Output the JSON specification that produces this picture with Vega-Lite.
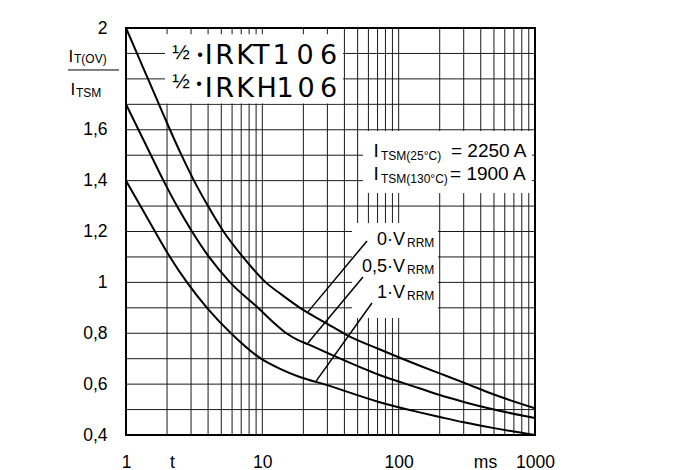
{
  "$schema": "https://vega.github.io/schema/vega-lite/v6.json",
  "width": 409,
  "height": 407,
  "autosize": "none",
  "padding": {"left": 126, "top": 28, "right": 165, "bottom": 35},
  "background": "white",
  "config": {
    "view": {"stroke": "black", "strokeWidth": 2},
    "axis": {"domain": false, "ticks": false, "grid": false, "labelFont": "Liberation Sans", "labelFontSize": 17.5, "labelColor": "black"}
  },
  "datasets": {
    "vgrid": [
      {"t": 2}, {"t": 3}, {"t": 4}, {"t": 5}, {"t": 6}, {"t": 7}, {"t": 8}, {"t": 9}, {"t": 10},
      {"t": 20}, {"t": 30}, {"t": 40}, {"t": 50}, {"t": 60}, {"t": 70}, {"t": 80}, {"t": 90}, {"t": 100},
      {"t": 200}, {"t": 300}, {"t": 400}, {"t": 500}, {"t": 600}, {"t": 700}, {"t": 800}, {"t": 900}
    ],
    "hgrid": [
      {"v": 0.5}, {"v": 0.6}, {"v": 0.7}, {"v": 0.8}, {"v": 0.9}, {"v": 1.0}, {"v": 1.1},
      {"v": 1.2}, {"v": 1.3}, {"v": 1.4}, {"v": 1.5}, {"v": 1.6}, {"v": 1.7}, {"v": 1.8}, {"v": 1.9}
    ],
    "boxes": [
      {"t1": 1.932, "t2": 39.06, "v1": 1.975, "v2": 1.703},
      {"t1": 54.75, "t2": 950, "v1": 1.595, "v2": 1.351},
      {"t1": 45.47, "t2": 194.4, "v1": 1.2335, "v2": 0.86}
    ],
    "curves": [
      {"s": "0", "t": 1, "v": 2.0}, {"s": "0", "t": 1.204, "v": 1.9}, {"s": "0", "t": 1.45, "v": 1.8},
      {"s": "0", "t": 1.746, "v": 1.7}, {"s": "0", "t": 2.102, "v": 1.6}, {"s": "0", "t": 2.554, "v": 1.5},
      {"s": "0", "t": 3.153, "v": 1.4}, {"s": "0", "t": 3.996, "v": 1.3}, {"s": "0", "t": 5.191, "v": 1.2},
      {"s": "0", "t": 7.2, "v": 1.1}, {"s": "0", "t": 10.6, "v": 1.0}, {"s": "0", "t": 14.0, "v": 0.95},
      {"s": "0", "t": 18.9, "v": 0.9},
      {"s": "0", "t": 30, "v": 0.837}, {"s": "0", "t": 41, "v": 0.795}, {"s": "0", "t": 71.5, "v": 0.738},
      {"s": "0", "t": 140, "v": 0.674}, {"s": "0", "t": 200, "v": 0.642}, {"s": "0", "t": 300, "v": 0.606},
      {"s": "0", "t": 500, "v": 0.559}, {"s": "0", "t": 1000, "v": 0.505},
      {"s": "0.5", "t": 1, "v": 1.7}, {"s": "0.5", "t": 1.235, "v": 1.6}, {"s": "0.5", "t": 1.525, "v": 1.5},
      {"s": "0.5", "t": 1.884, "v": 1.4}, {"s": "0.5", "t": 2.366, "v": 1.3}, {"s": "0.5", "t": 3.049, "v": 1.2},
      {"s": "0.5", "t": 4.063, "v": 1.1}, {"s": "0.5", "t": 5.8, "v": 1.0}, {"s": "0.5", "t": 9.3, "v": 0.9},
      {"s": "0.5", "t": 12.5, "v": 0.835}, {"s": "0.5", "t": 15, "v": 0.8}, {"s": "0.5", "t": 18, "v": 0.775},
      {"s": "0.5", "t": 22, "v": 0.755}, {"s": "0.5", "t": 32.3, "v": 0.715},
      {"s": "0.5", "t": 71.5, "v": 0.637}, {"s": "0.5", "t": 140, "v": 0.585}, {"s": "0.5", "t": 200, "v": 0.557},
      {"s": "0.5", "t": 300, "v": 0.53}, {"s": "0.5", "t": 500, "v": 0.5}, {"s": "0.5", "t": 1000, "v": 0.467},
      {"s": "1", "t": 1, "v": 1.4}, {"s": "1", "t": 1.277, "v": 1.3}, {"s": "1", "t": 1.632, "v": 1.2},
      {"s": "1", "t": 2.102, "v": 1.1}, {"s": "1", "t": 2.802, "v": 1.0}, {"s": "1", "t": 3.928, "v": 0.9},
      {"s": "1", "t": 5.89, "v": 0.8}, {"s": "1", "t": 9.78, "v": 0.7}, {"s": "1", "t": 13.5, "v": 0.66},
      {"s": "1", "t": 18.6, "v": 0.629},
      {"s": "1", "t": 29, "v": 0.598}, {"s": "1", "t": 71.5, "v": 0.53}, {"s": "1", "t": 140, "v": 0.49},
      {"s": "1", "t": 200, "v": 0.471}, {"s": "1", "t": 300, "v": 0.45}, {"s": "1", "t": 500, "v": 0.427},
      {"s": "1", "t": 1000, "v": 0.4}
    ],
    "leaders": [
      {"t1": 21.6, "v1": 0.884, "t2": 58.6, "v2": 1.163},
      {"t1": 21.6, "v1": 0.762, "t2": 54.75, "v2": 1.021},
      {"t1": 24.8, "v1": 0.612, "t2": 63.7, "v2": 0.919}
    ],
    "bar": [
      {"t1": 0.3755, "t2": 0.8886, "v": 1.835}
    ],
    "labels": [
      {"g": "big", "t": 4.044, "v": 1.8585, "txt": "I"},
      {"g": "big", "t": 5.279, "v": 1.8585, "txt": "R"},
      {"g": "big", "t": 7.463, "v": 1.8585, "txt": "K"},
      {"g": "big", "t": 9.827, "v": 1.8585, "txt": "T"},
      {"g": "big", "t": 13.71, "v": 1.8585, "txt": "1"},
      {"g": "big", "t": 20.56, "v": 1.8585, "txt": "0"},
      {"g": "big", "t": 30.58, "v": 1.8585, "txt": "6"},
      {"g": "big", "t": 4.044, "v": 1.7288, "txt": "I"},
      {"g": "big", "t": 5.279, "v": 1.7288, "txt": "R"},
      {"g": "big", "t": 7.463, "v": 1.7288, "txt": "K"},
      {"g": "big", "t": 10.77, "v": 1.7288, "txt": "H"},
      {"g": "big", "t": 14.67, "v": 1.7288, "txt": "1"},
      {"g": "big", "t": 20.91, "v": 1.7288, "txt": "0"},
      {"g": "big", "t": 30.58, "v": 1.7288, "txt": "6"},
      {"g": "half", "t": 2.531, "v": 1.9006, "txt": "½"},
      {"g": "half", "t": 2.531, "v": 1.7858, "txt": "½"},
      {"g": "dot", "t": 3.49, "v": 1.892, "txt": "•"},
      {"g": "dot", "t": 3.43, "v": 1.78, "txt": "•"},
      {"g": "ytitle", "t": 0.3786, "v": 1.866, "txt": "I"},
      {"g": "ytitle", "t": 0.3916, "v": 1.737, "txt": "I"},
      {"g": "sub", "t": 0.4155, "v": 1.862, "txt": "T(OV)"},
      {"g": "sub", "t": 0.4297, "v": 1.729, "txt": "TSM"},
      {"g": "main", "t": 65.4, "v": 1.493, "txt": "I"},
      {"g": "main", "t": 242, "v": 1.493, "txt": "= 2250 A"},
      {"g": "main", "t": 65.4, "v": 1.4025, "txt": "I"},
      {"g": "main", "t": 238, "v": 1.4025, "txt": "= 1900 A"},
      {"g": "sub", "t": 74.2, "v": 1.481, "txt": "TSM(25°C)"},
      {"g": "sub", "t": 74.2, "v": 1.391, "txt": "TSM(130°C)"},
      {"g": "vr", "t": 111.3, "v": 1.147, "txt": "0·V"},
      {"g": "vr", "t": 111.3, "v": 1.041, "txt": "0,5·V"},
      {"g": "vr", "t": 111.3, "v": 0.939, "txt": "1·V"},
      {"g": "sub", "t": 115.1, "v": 1.139, "txt": "RRM"},
      {"g": "sub", "t": 115.1, "v": 1.033, "txt": "RRM"},
      {"g": "sub", "t": 115.1, "v": 0.931, "txt": "RRM"}
    ]
  },
  "layer": [
    {
      "data": {"name": "vgrid"},
      "mark": {"type": "rule", "stroke": "#1a1a1a", "strokeWidth": 1},
      "encoding": {
        "x": {"field": "t", "type": "quantitative", "title": null,
          "scale": {"type": "log", "domain": [1, 1000], "nice": false},
          "axis": {"values": [1, 2.17, 10, 100, 430, 1000], "labelOverlap": false, "labelFlush": false, "labelPadding": 18,
            "labelExpr": "datum.value < 1.5 ? '1' : datum.value < 5 ? 't' : datum.value < 50 ? '10' : datum.value < 200 ? '100' : datum.value < 800 ? 'ms' : '1000'"}}
      }
    },
    {
      "data": {"name": "hgrid"},
      "mark": {"type": "rule", "stroke": "#1a1a1a", "strokeWidth": 1},
      "encoding": {
        "y": {"field": "v", "type": "quantitative", "title": null,
          "scale": {"domain": [0.4, 2], "nice": false, "zero": false},
          "axis": {"values": [0.4, 0.6, 0.8, 1, 1.2, 1.4, 1.6, 2], "labelOverlap": false, "labelFlush": false, "labelPadding": 19,
            "labelExpr": "replace(format(datum.value, '.1~f'), '.', ',')"}}
      }
    },
    {
      "data": {"name": "boxes"},
      "mark": {"type": "rect", "fill": "white", "stroke": null},
      "encoding": {
        "x": {"field": "t1", "type": "quantitative", "title": null},
        "x2": {"field": "t2"},
        "y": {"field": "v1", "type": "quantitative", "title": null},
        "y2": {"field": "v2"}
      }
    },
    {
      "data": {"name": "curves"},
      "mark": {"type": "line", "stroke": "black", "strokeWidth": 2, "interpolate": "monotone"},
      "encoding": {
        "x": {"field": "t", "type": "quantitative", "title": null},
        "y": {"field": "v", "type": "quantitative", "title": null},
        "detail": {"field": "s"}
      }
    },
    {
      "data": {"name": "leaders"},
      "mark": {"type": "rule", "stroke": "black", "strokeWidth": 1.5},
      "encoding": {
        "x": {"field": "t1", "type": "quantitative", "title": null},
        "x2": {"field": "t2"},
        "y": {"field": "v1", "type": "quantitative", "title": null},
        "y2": {"field": "v2"}
      }
    },
    {
      "data": {"name": "bar"},
      "mark": {"type": "rule", "stroke": "black", "strokeWidth": 1},
      "encoding": {
        "x": {"field": "t1", "type": "quantitative", "title": null},
        "x2": {"field": "t2"},
        "y": {"field": "v", "type": "quantitative", "title": null}
      }
    },
    {
      "data": {"name": "labels"},
      "transform": [{"filter": "datum.g == 'big'"}],
      "mark": {"type": "text", "align": "center", "baseline": "alphabetic", "font": "DejaVu Sans", "fontSize": 27, "fill": "black"},
      "encoding": {
        "x": {"field": "t", "type": "quantitative", "title": null},
        "y": {"field": "v", "type": "quantitative", "title": null},
        "text": {"field": "txt"}
      }
    },
    {
      "data": {"name": "labels"},
      "transform": [{"filter": "datum.g == 'half'"}],
      "mark": {"type": "text", "align": "center", "baseline": "middle", "font": "Liberation Sans", "fontSize": 21, "fill": "black"},
      "encoding": {
        "x": {"field": "t", "type": "quantitative", "title": null},
        "y": {"field": "v", "type": "quantitative", "title": null},
        "text": {"field": "txt"}
      }
    },
    {
      "data": {"name": "labels"},
      "transform": [{"filter": "datum.g == 'dot'"}],
      "mark": {"type": "text", "align": "center", "baseline": "middle", "font": "Liberation Sans", "fontSize": 16, "fill": "black"},
      "encoding": {
        "x": {"field": "t", "type": "quantitative", "title": null},
        "y": {"field": "v", "type": "quantitative", "title": null},
        "text": {"field": "txt"}
      }
    },
    {
      "data": {"name": "labels"},
      "transform": [{"filter": "datum.g == 'ytitle'"}],
      "mark": {"type": "text", "align": "left", "baseline": "alphabetic", "font": "Liberation Sans", "fontSize": 17, "fill": "black"},
      "encoding": {
        "x": {"field": "t", "type": "quantitative", "title": null},
        "y": {"field": "v", "type": "quantitative", "title": null},
        "text": {"field": "txt"}
      }
    },
    {
      "data": {"name": "labels"},
      "transform": [{"filter": "datum.g == 'main'"}],
      "mark": {"type": "text", "align": "left", "baseline": "alphabetic", "font": "Liberation Sans", "fontSize": 19, "fill": "black"},
      "encoding": {
        "x": {"field": "t", "type": "quantitative", "title": null},
        "y": {"field": "v", "type": "quantitative", "title": null},
        "text": {"field": "txt"}
      }
    },
    {
      "data": {"name": "labels"},
      "transform": [{"filter": "datum.g == 'vr'"}],
      "mark": {"type": "text", "align": "right", "baseline": "alphabetic", "font": "Liberation Sans", "fontSize": 18, "fill": "black"},
      "encoding": {
        "x": {"field": "t", "type": "quantitative", "title": null},
        "y": {"field": "v", "type": "quantitative", "title": null},
        "text": {"field": "txt"}
      }
    },
    {
      "data": {"name": "labels"},
      "transform": [{"filter": "datum.g == 'sub'"}],
      "mark": {"type": "text", "align": "left", "baseline": "alphabetic", "font": "Liberation Sans", "fontSize": 12, "fill": "black"},
      "encoding": {
        "x": {"field": "t", "type": "quantitative", "title": null},
        "y": {"field": "v", "type": "quantitative", "title": null},
        "text": {"field": "txt"}
      }
    }
  ]
}
